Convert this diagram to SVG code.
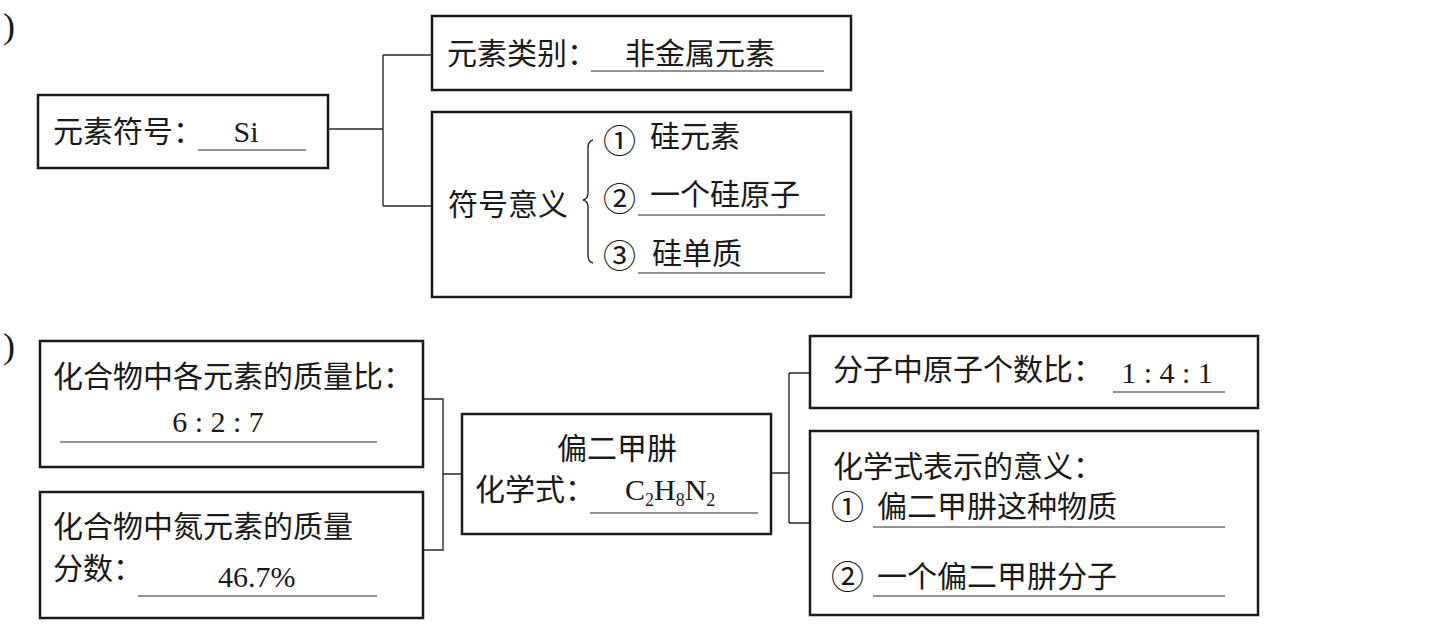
<svg xmlns="http://www.w3.org/2000/svg" width="1444" height="638" viewBox="0 0 1444 638">
<style>
.box{fill:#fff;stroke:#1a1a1a;stroke-width:2.5}
.con{fill:none;stroke:#2a2a2a;stroke-width:1.4}
.ul{stroke:#2a2a2a;stroke-width:1.2}
.cn{font-family:"Noto Sans CJK SC","Liberation Serif",serif;font-size:30px;fill:#1a1a1a}
.lt{font-family:"Liberation Serif","Noto Sans CJK SC",serif;font-size:30px;fill:#1a1a1a}
.par{font-size:36px}
.num{font-size:33px}
.sub{font-size:18px}
</style>
<rect width="1444" height="638" fill="#fff"/>
<text class="lt par" x="3" y="38">)</text>
<text class="lt par" x="3" y="358">)</text>

<g id="connectors">
<path class="con" d="M328,129 H383 M383,55 V206 M383,55 H432 M383,206 H432"/>
<path class="con" d="M423,399 H443 V550 H423 M443,474 H462"/>
<path class="con" d="M771,473 H789 M789,373 V523 M789,373 H810 M789,523 H810"/>
</g>

<g id="node-symbol">
<rect class="box" x="38" y="95" width="290" height="73"/>
<text class="cn" x="53" y="142">元素符号：</text>
<line class="ul" x1="198" y1="150" x2="306" y2="150"/>
<text class="lt" x="246" y="142" text-anchor="middle">Si</text>
</g>

<g id="node-category">
<rect class="box" x="432" y="16" width="419" height="74"/>
<text class="cn" x="447" y="64">元素类别：</text>
<line class="ul" x1="591" y1="71" x2="824" y2="71"/>
<text class="cn" x="625" y="64">非金属元素</text>
</g>

<g id="node-meaning">
<rect class="box" x="432" y="112" width="419" height="185"/>
<text class="cn" x="448" y="215">符号意义</text>
<path class="con" d="M593,140 Q588,141 588,148 V193 Q588,199 583,200 Q588,201 588,207 V255 Q588,262 593,263"/>
<text class="cn num" x="603" y="153">①</text>
<text class="cn" x="650" y="147">硅元素</text>
<text class="cn num" x="603" y="211">②</text>
<text class="cn" x="650" y="205">一个硅原子</text>
<line class="ul" x1="638" y1="215" x2="825" y2="215"/>
<text class="cn num" x="603" y="268">③</text>
<text class="cn" x="652" y="264">硅单质</text>
<line class="ul" x1="638" y1="273" x2="825" y2="273"/>
</g>

<g id="node-mass-ratio">
<rect class="box" x="40" y="341" width="383" height="126"/>
<text class="cn" x="53" y="387">化合物中各元素的质量比：</text>
<text class="lt" x="218" y="432" text-anchor="middle">6 : 2 : 7</text>
<line class="ul" x1="60" y1="442" x2="377" y2="442"/>
</g>

<g id="node-nitrogen">
<rect class="box" x="40" y="492" width="383" height="126"/>
<text class="cn" x="53" y="537">化合物中氮元素的质量</text>
<text class="cn" x="53" y="579">分数：</text>
<text class="lt" x="218" y="587">46.7%</text>
<line class="ul" x1="138" y1="596" x2="377" y2="596"/>
</g>

<g id="node-formula">
<rect class="box" x="462" y="414" width="309" height="120"/>
<text class="cn" x="617" y="459" text-anchor="middle">偏二甲肼</text>
<text class="cn" x="475" y="500">化学式：</text>
<text class="lt" x="625" y="500">C<tspan class="sub" dy="6">2</tspan><tspan dy="-6">H</tspan><tspan class="sub" dy="6">8</tspan><tspan dy="-6">N</tspan><tspan class="sub" dy="6">2</tspan></text>
<line class="ul" x1="590" y1="513" x2="758" y2="513"/>
</g>

<g id="node-atom-ratio">
<rect class="box" x="810" y="336" width="448" height="72"/>
<text class="cn" x="833" y="380">分子中原子个数比：</text>
<text class="lt" x="1167" y="383" text-anchor="middle">1 : 4 : 1</text>
<line class="ul" x1="1113" y1="392" x2="1225" y2="392"/>
</g>

<g id="node-formula-meaning">
<rect class="box" x="810" y="431" width="448" height="184"/>
<text class="cn" x="833" y="477">化学式表示的意义：</text>
<text class="cn num" x="831" y="519">①</text>
<text class="cn" x="877" y="517">偏二甲肼这种物质</text>
<line class="ul" x1="873" y1="527" x2="1225" y2="527"/>
<text class="cn num" x="831" y="589">②</text>
<text class="cn" x="877" y="587">一个偏二甲肼分子</text>
<line class="ul" x1="873" y1="596" x2="1225" y2="596"/>
</g>
</svg>
